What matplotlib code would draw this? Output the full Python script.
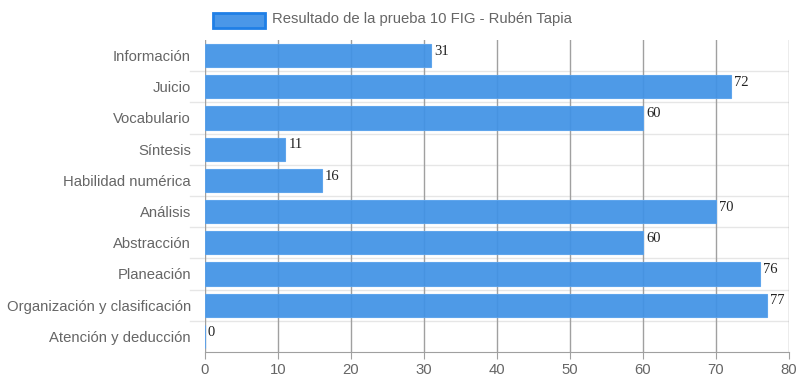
import matplotlib.pyplot as plt
import numpy as np

categorias = ['Información', 'Juicio', 'Vocabulario', 'Síntesis', 'Habilidad numérica',
              'Análisis', 'Abstracción', 'Planeación', 'Organización y clasificación',
              'Atención y deducción']
valores = [31, 72, 60, 11, 16, 70, 60, 76, 77, 0]
serie = 'Resultado de la prueba 10 FIG - Rubén Tapia'

plt.rcParams['font.family'] = ['Liberation Sans', 'DejaVu Sans']

fig = plt.figure(figsize=(8, 3.86), dpi=100)
ax = fig.add_axes([0.25625, 0.0881, 0.73, 0.8083])

y = np.arange(len(categorias))
ax.barh(y, valores, height=0.74, color='#4092e6', edgecolor='#5aa2ec', linewidth=0.8,
        alpha=0.93, zorder=2)

for yi, v in zip(y, valores):
    ax.text(v + 0.4, yi - 0.14, str(v), fontsize=10.5, family='Liberation Serif',
            color='#222222', va='center', ha='left', zorder=4)

ax.set_xlim(0, 80)
ax.set_ylim(len(categorias) - 0.5, -0.5)
ax.set_xticks(range(0, 81, 10))
ax.set_yticks(y)
ax.set_yticklabels(categorias)

# grid
for xv in range(0, 81, 10):
    ax.axvline(xv, color='#a0a0a0', linewidth=1, zorder=1)
for b in np.arange(0.5, len(categorias) - 1, 1.0):
    ax.axhline(b, color='#e6e6e6', linewidth=1, zorder=0)
    ax.plot([-2.0, 0], [b, b], color='#e6e6e6', linewidth=1, clip_on=False, zorder=0)

for s in ['top', 'right', 'left']:
    ax.spines[s].set_visible(False)
ax.spines['bottom'].set_color('#a0a0a0')
ax.tick_params(axis='y', length=0, pad=10, labelsize=10.7, labelcolor='#666666')
ax.tick_params(axis='x', length=5, color='#a0a0a0', labelsize=10.7, labelcolor='#666666', pad=3)

# legend
fig.patches.append(plt.Rectangle((213 / 800, 1 - 28 / 386), 52 / 800, 15 / 386,
                                 transform=fig.transFigure, facecolor='#4a97e8',
                                 edgecolor='#1f7fe6', linewidth=2))
fig.text(272 / 800, 1 - 19.5 / 386, serie, fontsize=10.7, color='#666666', va='center', ha='left')

fig.savefig('out.png', dpi=100)
